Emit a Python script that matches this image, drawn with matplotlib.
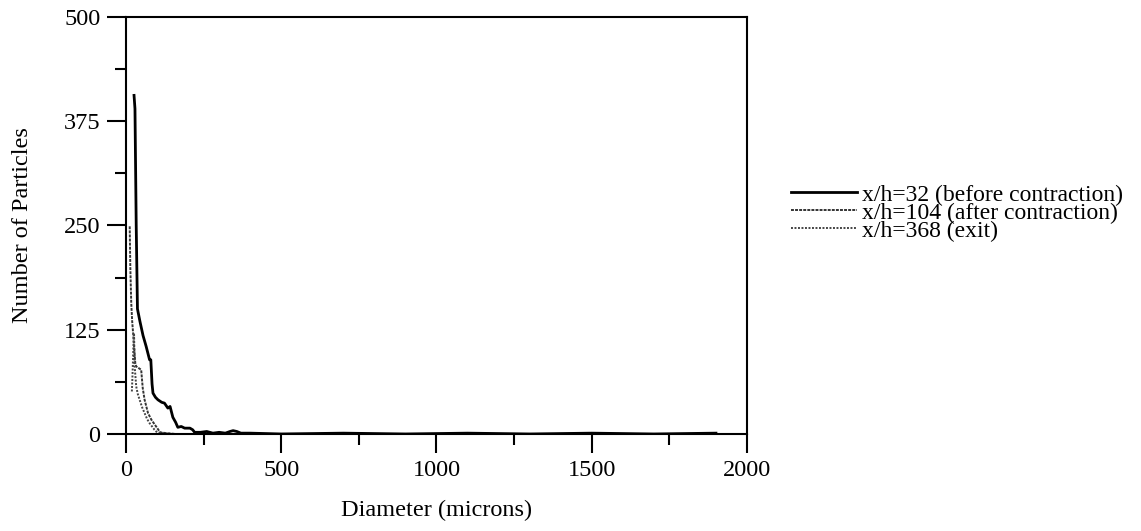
import numpy as np
import matplotlib.pyplot as plt

plt.rcParams['font.family'] = ['Liberation Serif', 'DejaVu Serif']

# x/h=32 (antes de la contraccion)
d32 = [26, 29, 33, 37, 45, 55, 65, 76, 80, 84, 87, 95, 103, 115, 124, 135, 142, 151,
       160, 167, 178, 189, 206, 215, 221, 240, 260, 280, 300, 320, 335, 345, 357, 370, 400,
       500, 700, 900, 1100, 1300, 1500, 1700, 1900]
n32 = [406, 390, 250, 150, 135, 118, 105, 89, 89, 60, 49, 44, 41, 38, 37, 31, 33, 20,
       14, 8, 9, 7, 7, 5, 2, 2, 3, 1, 2, 1, 3, 4, 3, 1, 1,
       0, 1, 0, 1, 0, 1, 0, 1]

# x/h=104 (despues de la contraccion)
d104 = [12, 14, 17, 20, 23, 27, 30, 33, 41, 49, 54, 60, 71, 82, 97, 110, 130, 160, 200]
n104 = [249, 200, 157, 135, 121, 100, 85, 81, 79, 77, 55, 41, 25, 17, 9, 2, 1, 0, 0]

# x/h=368 (salida)
d368 = [19, 21, 24, 26, 28, 33, 38, 44, 52, 60, 68, 76, 84, 92, 100, 120, 150, 200]
n368 = [51, 70, 105, 121, 81, 57, 48, 41, 32, 25, 18, 13, 9, 5, 2, 1, 0, 0]

fig = plt.figure(figsize=(11.41, 5.31), dpi=100)
ax = fig.add_axes([0.1104, 0.1827, 0.5443, 0.7853])

ax.plot(d32, n32, color='black', lw=2.0, label='x/h=32 (before contraction)')
ax.plot(d104, n104, color='#333333', lw=1.4, linestyle=(0, (1.5, 0.6)),
        label='x/h=104 (after contraction)')
ax.plot(d368, n368, color='#444444', lw=1.4, linestyle=(0, (1, 0.8)),
        label='x/h=368 (exit)')

ax.set_xlim(0, 2000)
ax.set_ylim(0, 500)
ax.set_xticks([0, 500, 1000, 1500, 2000])
ax.set_xticks([250, 750, 1250, 1750], minor=True)
ax.set_yticks([0, 125, 250, 375, 500])
ax.set_yticks([62.5, 187.5, 312.5, 437.5], minor=True)
ax.tick_params(which='major', direction='out', length=13.5, width=1.5, labelsize=17.5, pad=5)
ax.tick_params(which='minor', direction='out', length=8, width=1.5)
for s in ax.spines.values():
    s.set_linewidth(1.5)

ax.set_xlabel('Diameter (microns)', fontsize=17.5, labelpad=14)
ax.set_ylabel('Number of Particles', fontsize=17.5, labelpad=22)

ax.legend(loc='center left', bbox_to_anchor=(1.056, 0.53), frameon=False, fontsize=17,
          handlelength=2.8, handletextpad=0.2, labelspacing=-0.15, borderaxespad=0)

plt.savefig('out.png', dpi=100)
